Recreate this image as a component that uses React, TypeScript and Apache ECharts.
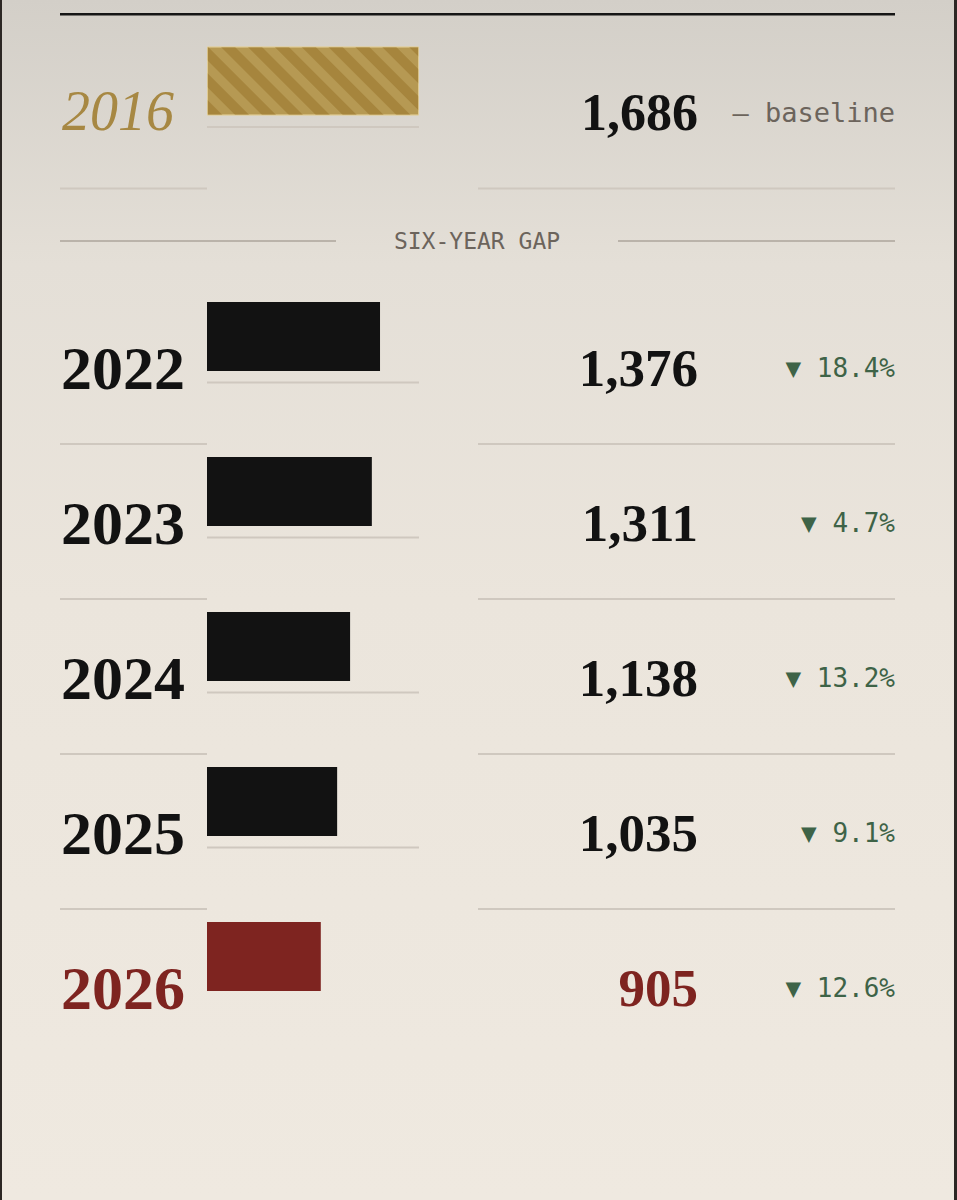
import React, { useEffect, useRef } from "react";
import * as echarts from "echarts";

// ---- data ----
const baselineYear = "2016";
const baselineValue = 1686;
const recentYears = ["2022", "2023", "2024", "2025", "2026"];
const recentValues = [1376, 1311, 1138, 1035, 905];
const baselineNote = "— baseline";
const gapLabel = "SIX-YEAR GAP";

const GOLD = "#a78843";
const INK = "#121212";
const RED = "#7e2420";
const GREEN = "#3e6347";
const MONO_GREY = "#6c645c";
const RULE = "#cfc8bf";

const SERIF = '"Liberation Serif", "DejaVu Serif", serif';
const MONO = '"DejaVu Sans Mono", "Liberation Mono", monospace';

const fmt = (v: number) => v.toLocaleString("en-US");

function pctChange(prev: number, cur: number) {
  return "▼ " + (((prev - cur) / prev) * 100).toFixed(1) + "%";
}

function makeRenderItem(group: "base" | "recent") {
  return (params: any, api: any) => {
    const v = api.value(0);
    const idx = api.value(1);
    const i = params.dataIndex;
    const cy = api.coord([v, idx])[1];
    const x0 = api.coord([0, idx])[0];
    const xMax = api.coord([baselineValue, idx])[0];
    const isLast = group === "recent" && i === recentValues.length - 1;
    const children: any[] = [];
    const textY = cy + 31;

    if (!isLast) {
      children.push({
        type: "rect",
        shape: { x: x0, y: cy + 45, width: xMax - x0, height: 2 },
        style: { fill: RULE },
      });
      children.push({
        type: "rect",
        shape: { x: 60, y: cy + 106.5, width: x0 - 60, height: 2 },
        style: { fill: RULE },
      });
      children.push({
        type: "rect",
        shape: { x: 478, y: cy + 106.5, width: 895 - 478, height: 2 },
        style: { fill: RULE },
      });
    }

    if (group === "base") {
      children.push({
        type: "text",
        style: {
          text: baselineYear,
          x: 62,
          y: textY - 1,
          fill: GOLD,
          fontFamily: SERIF,
          fontStyle: "italic",
          fontSize: 56,
          align: "left",
          verticalAlign: "middle",
        },
      });
      children.push({
        type: "text",
        style: {
          text: fmt(v),
          x: 698,
          y: textY,
          fill: INK,
          fontFamily: SERIF,
          fontWeight: "bold",
          fontSize: 52,
          align: "right",
          verticalAlign: "middle",
        },
      });
      children.push({
        type: "text",
        style: {
          text: baselineNote,
          x: 895,
          y: textY,
          fill: MONO_GREY,
          fontFamily: MONO,
          fontSize: 27,
          align: "right",
          verticalAlign: "middle",
        },
      });
    } else {
      const color = isLast ? RED : INK;
      const prev = i === 0 ? baselineValue : recentValues[i - 1];
      children.push({
        type: "text",
        style: {
          text: recentYears[i],
          x: 61,
          y: textY,
          fill: color,
          fontFamily: SERIF,
          fontWeight: "bold",
          fontSize: 62,
          align: "left",
          verticalAlign: "middle",
        },
      });
      children.push({
        type: "text",
        style: {
          text: fmt(v),
          x: 698,
          y: textY,
          fill: color,
          fontFamily: SERIF,
          fontWeight: "bold",
          fontSize: 53,
          align: "right",
          verticalAlign: "middle",
        },
      });
      children.push({
        type: "text",
        style: {
          text: pctChange(prev, v),
          x: 895,
          y: textY,
          fill: GREEN,
          fontFamily: MONO,
          fontSize: 26,
          align: "right",
          verticalAlign: "middle",
        },
      });
    }
    return { type: "group", children };
  };
}

export default function App() {
  const ref = useRef<HTMLDivElement>(null);

  useEffect(() => {
    if (!ref.current) return;
    const chart = echarts.init(ref.current, null, { renderer: "svg" });
    const option: any = {
      animation: false,
      backgroundColor: {
        type: "linear",
        x: 0,
        y: 0,
        x2: 0,
        y2: 1,
        colorStops: [
          { offset: 0, color: "#d3cfc8" },
          { offset: 0.22, color: "#e4dfd7" },
          { offset: 0.5, color: "#ebe5dc" },
          { offset: 1, color: "#efe9e0" },
        ],
      },
      grid: [
        { left: 207, width: 212, top: 3.5, height: 155 },
        { left: 207, width: 212, top: 259, height: 775 },
      ],
      xAxis: [
        { gridIndex: 0, type: "value", min: 0, max: baselineValue, show: false },
        { gridIndex: 1, type: "value", min: 0, max: baselineValue, show: false },
      ],
      yAxis: [
        { gridIndex: 0, type: "category", data: [baselineYear], inverse: true, show: false },
        { gridIndex: 1, type: "category", data: recentYears, inverse: true, show: false },
      ],
      series: [
        {
          type: "bar",
          xAxisIndex: 0,
          yAxisIndex: 0,
          barWidth: 69,
          data: [
            {
              value: baselineValue,
              itemStyle: {
                color: "#b69953",
                borderColor: "rgba(225,205,150,0.7)",
                borderWidth: 1,
                decal: {
                  symbol: "rect",
                  symbolSize: 1,
                  dashArrayX: [1, 0],
                  dashArrayY: [10, 9],
                  rotation: Math.PI / 4,
                  color: "#a6853d",
                },
              },
            },
          ],
        },
        {
          type: "bar",
          xAxisIndex: 1,
          yAxisIndex: 1,
          barWidth: 69,
          data: recentValues.map((v, i) => ({
            value: v,
            itemStyle: { color: i === recentValues.length - 1 ? RED : INK },
          })),
        },
        {
          type: "custom",
          xAxisIndex: 0,
          yAxisIndex: 0,
          renderItem: makeRenderItem("base"),
          data: [[baselineValue, 0]],
          z: 1,
        },
        {
          type: "custom",
          xAxisIndex: 1,
          yAxisIndex: 1,
          renderItem: makeRenderItem("recent"),
          data: recentValues.map((v, i) => [v, i]),
          z: 1,
        },
      ],
      graphic: [
        { type: "rect", shape: { x: 60, y: 13, width: 835, height: 2.5 }, style: { fill: "#151515" } },
        { type: "rect", shape: { x: 60, y: 240, width: 276, height: 2 }, style: { fill: "#bab3aa" } },
        { type: "rect", shape: { x: 618, y: 240, width: 277, height: 2 }, style: { fill: "#bab3aa" } },
        {
          type: "text",
          style: {
            text: gapLabel,
            x: 477,
            y: 241,
            fill: MONO_GREY,
            fontFamily: MONO,
            fontSize: 23,
            align: "center",
            verticalAlign: "middle",
          },
        },
        { type: "rect", shape: { x: 0, y: 0, width: 2, height: 1200 }, style: { fill: "#2c2724" } },
        { type: "rect", shape: { x: 954, y: 0, width: 3, height: 1200 }, style: { fill: "#2c2724" } },
      ],
    };
    chart.setOption(option);
    return () => chart.dispose();
  }, []);

  return (
    <div
      ref={ref}
      style={{ position: "absolute", left: 0, top: 0, width: 957, height: 1200 }}
    />
  );
}
